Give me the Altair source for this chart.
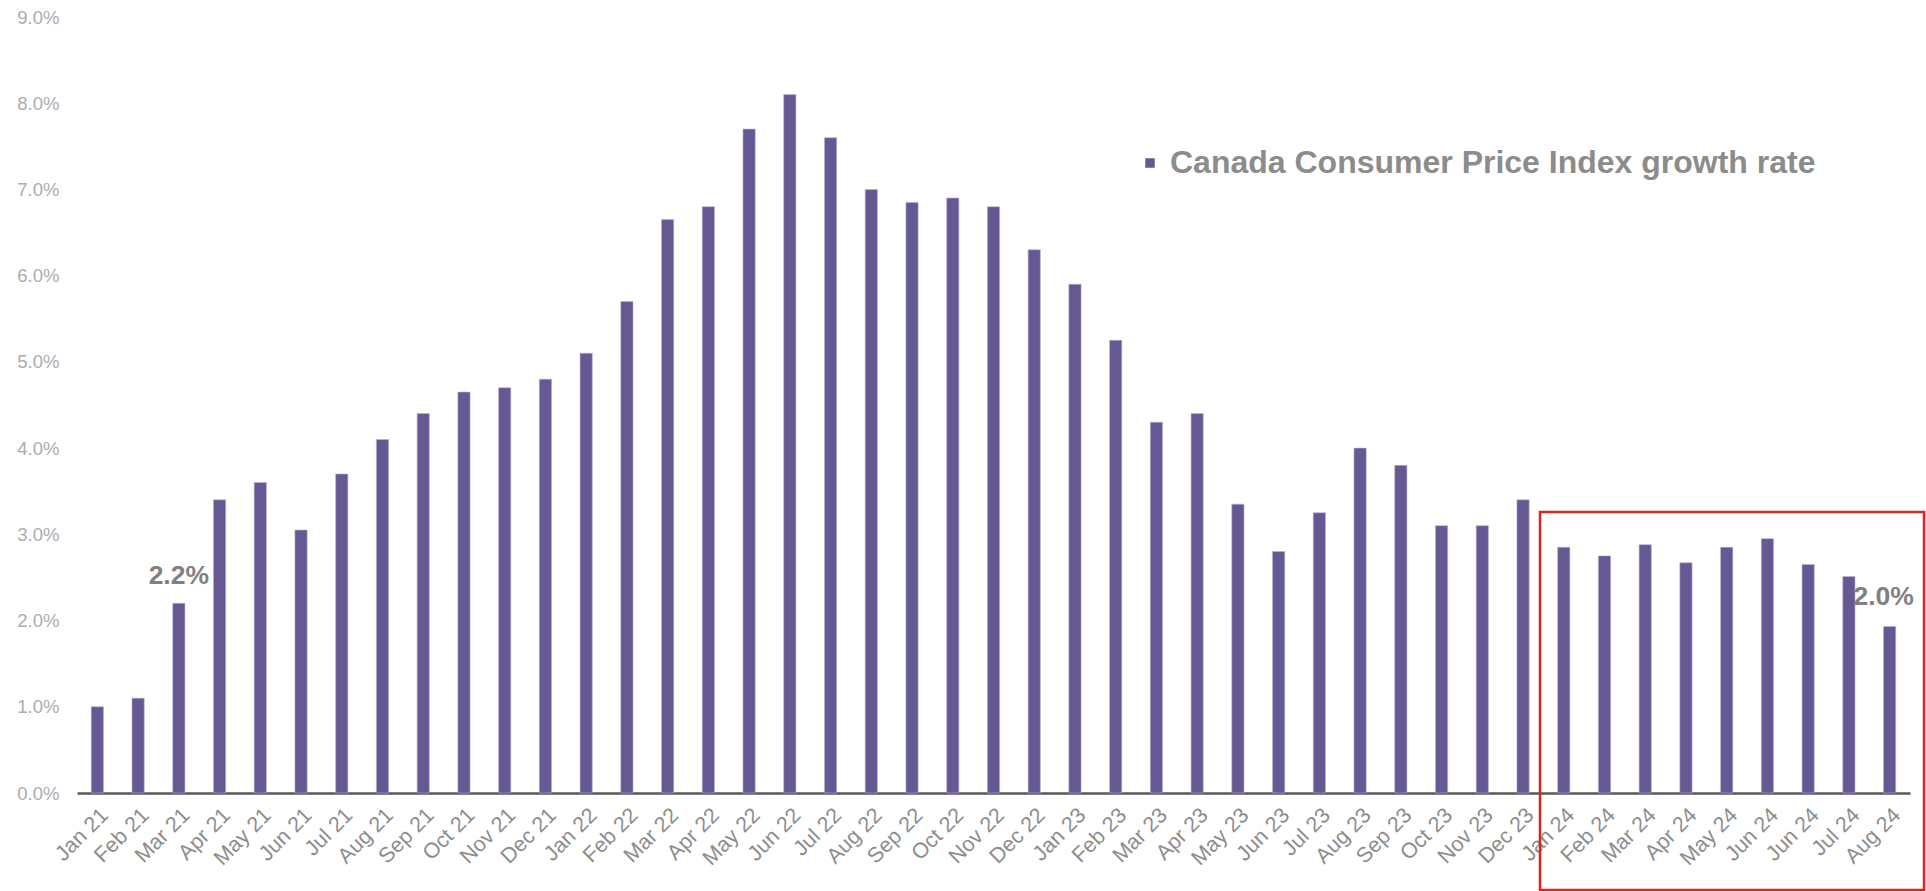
import altair as alt
import pandas as pd

months = ["Jan 21", "Feb 21", "Mar 21", "Apr 21", "May 21", "Jun 21", "Jul 21", "Aug 21",
          "Sep 21", "Oct 21", "Nov 21", "Dec 21", "Jan 22", "Feb 22", "Mar 22", "Apr 22",
          "May 22", "Jun 22", "Jul 22", "Aug 22", "Sep 22", "Oct 22", "Nov 22", "Dec 22",
          "Jan 23", "Feb 23", "Mar 23", "Apr 23", "May 23", "Jun 23", "Jul 23", "Aug 23",
          "Sep 23", "Oct 23", "Nov 23", "Dec 23", "Jan 24", "Feb 24", "Mar 24", "Apr 24",
          "May 24", "Jun 24", "Jun 24", "Jul 24", "Aug 24"]
cpi = [1.0, 1.1, 2.2, 3.4, 3.6, 3.05, 3.7, 4.1,
       4.4, 4.65, 4.7, 4.8, 5.1, 5.7, 6.65, 6.8,
       7.7, 8.1, 7.6, 7.0, 6.85, 6.9, 6.8, 6.3,
       5.9, 5.25, 4.3, 4.4, 3.35, 2.8, 3.25, 4.0,
       3.8, 3.1, 3.1, 3.4, 2.85, 2.75, 2.88, 2.67,
       2.85, 2.95, 2.65, 2.51, 1.93]
series_name = "Canada Consumer Price Index growth rate"

ann_idx = [2, 44]
ann_values = [2.2, 1.93]
ann_labels = ["2.2%", "2.0%"]
ann_side = ["left", "right"]

y_ticks = [0, 1, 2, 3, 4, 5, 6, 7, 8, 9]

df = pd.DataFrame({"idx": list(range(len(months))), "value": cpi, "series": series_name})
ann = pd.DataFrame({"idx": ann_idx, "value": ann_values, "label": ann_labels, "side": ann_side})

label_js = "[" + ",".join("'" + m + "'" for m in months) + "][datum.value]"

x_enc = alt.X("idx:O", title=None,
              scale=alt.Scale(paddingInner=0.7, paddingOuter=0.35),
              axis=alt.Axis(labelExpr=label_js, labelAngle=-45, labelFont="Liberation Sans",
                            labelFontSize=21.5, labelColor="#8c8c8c", labelPadding=11,
                            ticks=False, domainColor="#595959", domainWidth=2.5,
                            labelOverlap=False, grid=False))
y_scale = alt.Scale(domain=[0, 9], nice=False, zero=True)

bars = alt.Chart(df).mark_bar(stroke="#b9b0d6", strokeWidth=0.6).encode(
    x=x_enc,
    y=alt.Y("value:Q", title=None, scale=y_scale,
            axis=alt.Axis(values=y_ticks, labelExpr="format(datum.value, '.1f') + '%'",
                          labelFont="Liberation Sans", labelFontSize=18.5,
                          labelColor="#acacac", labelPadding=18, ticks=False,
                          domain=False, grid=False)),
    color=alt.Color("series:N", title=None,
                    scale=alt.Scale(range=["#665893"]),
                    legend=alt.Legend(orient="none", legendX=1057, legendY=130,
                                      symbolType="square", symbolSize=90,
                                      symbolStrokeWidth=0,
                                      labelFont="Liberation Sans",
                                      labelFontSize=32, labelFontWeight="bold",
                                      labelColor="#8c8c8c", labelLimit=1000, symbolOffset=0,
                                      labelOffset=4)),
)

labels = alt.Chart(ann).transform_filter("datum.side == 'left'").mark_text(
    font="Liberation Sans", fontSize=26.5, fontWeight="bold", color="#808080",
    baseline="alphabetic", dy=-19).encode(
    x=alt.X("idx:O"), y=alt.Y("value:Q", scale=y_scale), text="label:N")
labels2 = alt.Chart(ann).transform_filter("datum.side == 'right'").mark_text(
    font="Liberation Sans", fontSize=26.5, fontWeight="bold", color="#808080",
    baseline="alphabetic", dy=-22, dx=-6).encode(
    x=alt.X("idx:O"), y=alt.Y("value:Q", scale=y_scale), text="label:N")

box = alt.Chart(pd.DataFrame({"k": [0]})).mark_rect(
    filled=False, stroke="#d9261c", strokeWidth=2.5).encode(
    x=alt.value(1463), x2=alt.value(1847), y=alt.value(495), y2=alt.value(873))

chart = alt.layer(bars, labels, labels2, box).properties(
    width=1833, height=776,
    background="white",
    autosize=alt.AutoSizeParams(type="none"),
    padding={"left": 77, "top": 17, "right": 16, "bottom": 98},
).configure_view(strokeWidth=0, stroke="transparent").configure_axis(grid=False)

chart.save("out.html", embed_options={"renderer": "svg", "actions": False})
